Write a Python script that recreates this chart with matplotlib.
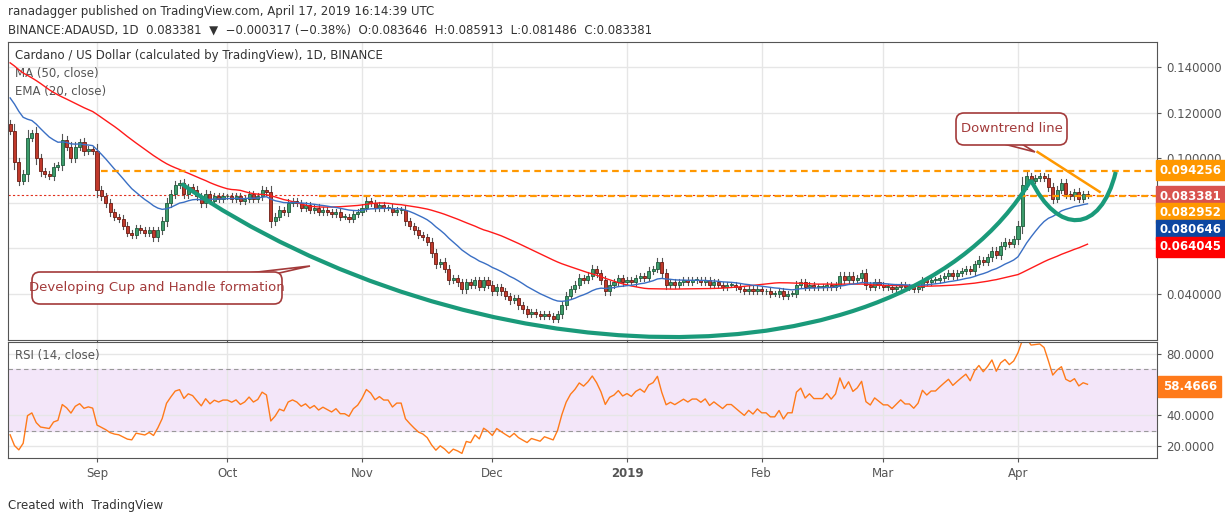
import numpy as np
import pandas as pd
import matplotlib
matplotlib.use("Agg")
from matplotlib import pyplot as plt
from matplotlib.patches import FancyBboxPatch, PathPatch, Polygon
from matplotlib.path import Path

# hidden history before the visible window (needed for MA50 / EMA20 / RSI)
history = [0.170, 0.168, 0.172, 0.165, 0.162, 0.166, 0.160, 0.158, 0.163, 0.160,
           0.155, 0.152, 0.156, 0.150, 0.148, 0.152, 0.155, 0.150, 0.147, 0.145,
           0.149, 0.151, 0.146, 0.143, 0.140, 0.144, 0.147, 0.142, 0.138, 0.140,
           0.137, 0.135, 0.138, 0.134, 0.131, 0.133, 0.136, 0.132, 0.130, 0.127,
           0.129, 0.125, 0.128, 0.124, 0.121, 0.123, 0.126, 0.122, 0.118, 0.115]

aug = [0.112, 0.098, 0.090, 0.093, 0.109, 0.111, 0.100, 0.094, 0.093, 0.092,
       0.096, 0.097, 0.108, 0.105, 0.100, 0.105, 0.107, 0.103, 0.104, 0.103]
sep = [0.086, 0.083, 0.080, 0.076, 0.074, 0.073, 0.070, 0.067, 0.066, 0.069,
       0.068, 0.067, 0.068, 0.065, 0.068, 0.072, 0.080, 0.084, 0.088, 0.089,
       0.084, 0.087, 0.086, 0.083, 0.080, 0.084, 0.081, 0.083, 0.082, 0.083]
oct_ = [0.083, 0.082, 0.083, 0.081, 0.082, 0.084, 0.082, 0.083, 0.086, 0.085,
        0.072, 0.074, 0.077, 0.076, 0.080, 0.081, 0.080, 0.078, 0.079, 0.077,
        0.078, 0.076, 0.077, 0.076, 0.075, 0.076, 0.074, 0.074, 0.073, 0.075, 0.076]
nov = [0.078, 0.081, 0.080, 0.078, 0.079, 0.078, 0.078, 0.076, 0.077, 0.077,
       0.072, 0.070, 0.068, 0.066, 0.065, 0.063, 0.058, 0.053, 0.054, 0.051,
       0.046, 0.047, 0.045, 0.042, 0.045, 0.044, 0.046, 0.043, 0.046, 0.044]
dec = [0.041, 0.043, 0.041, 0.039, 0.037, 0.038, 0.035, 0.033, 0.031, 0.032,
       0.031, 0.030, 0.031, 0.030, 0.029, 0.031, 0.035, 0.039, 0.042, 0.044,
       0.047, 0.046, 0.048, 0.051, 0.049, 0.046, 0.041, 0.044, 0.045, 0.047, 0.045]
jan = [0.046, 0.045, 0.047, 0.048, 0.047, 0.050, 0.051, 0.054, 0.049, 0.044,
       0.045, 0.044, 0.045, 0.046, 0.045, 0.046, 0.046, 0.045, 0.046, 0.044,
       0.045, 0.044, 0.043, 0.044, 0.044, 0.043, 0.042, 0.041, 0.042, 0.041, 0.042]
feb = [0.041, 0.041, 0.040, 0.040, 0.041, 0.039, 0.040, 0.040, 0.044, 0.045,
       0.043, 0.044, 0.043, 0.043, 0.043, 0.044, 0.043, 0.044, 0.048, 0.046,
       0.048, 0.046, 0.047, 0.049, 0.044, 0.043, 0.045, 0.044]
mar = [0.043, 0.043, 0.042, 0.043, 0.044, 0.043, 0.043, 0.042, 0.043, 0.046,
       0.045, 0.046, 0.046, 0.047, 0.048, 0.049, 0.048, 0.049, 0.050, 0.051,
       0.050, 0.053, 0.055, 0.054, 0.056, 0.059, 0.057, 0.061, 0.063, 0.062, 0.064]
apr = [0.070, 0.088, 0.092, 0.090, 0.091, 0.092, 0.091, 0.087, 0.082, 0.086,
       0.089, 0.084, 0.083, 0.085, 0.082, 0.084, 0.083381]

closes = aug + sep + oct_ + nov + dec + jan + feb + mar + apr
dates = pd.date_range("2018-08-12", periods=len(closes), freq="D")

month_labels = ["Sep", "Oct", "Nov", "Dec", "2019", "Feb", "Mar", "Apr"]
month_starts = ["2018-09-01", "2018-10-01", "2018-11-01", "2018-12-01",
                "2019-01-01", "2019-02-01", "2019-03-01", "2019-04-01"]

level_res = 0.094256
level_sup = 0.082952
last_price = 0.083381
tag_values = [0.094256, 0.083381, 0.082952, 0.080646, 0.064045]
tag_colors = ["#ff9800", "#d9534f", "#ff9800", "#0d47a1", "#ff0000"]
rsi_last = 58.4666

# indicators
allc = pd.Series(history + closes)
ma50 = allc.rolling(50).mean().values[len(history):]
ema20 = allc.ewm(span=20, adjust=False).mean().values[len(history):]
d = allc.diff()
up = d.clip(lower=0).ewm(alpha=1 / 14, adjust=False).mean()
dn = (-d.clip(upper=0)).ewm(alpha=1 / 14, adjust=False).mean()
rsi = (100 - 100 / (1 + up / dn)).values[len(history):]

n = len(closes)
x = np.arange(n)
opens = [history[-1]] + closes[:-1]

fig = plt.figure(figsize=(12.25, 5.22), dpi=100)
ax = fig.add_axes([0.0065, 0.349, 0.938, 0.5705])
ax2 = fig.add_axes([0.0065, 0.1226, 0.938, 0.2224], sharex=ax)

GRID = "#e6e6e6"
for a in (ax, ax2):
    a.grid(True, color=GRID, lw=1)
    a.set_axisbelow(True)
    a.yaxis.tick_right()
    for s in a.spines.values():
        s.set_color("#555555")
    a.tick_params(colors="#555555", labelsize=8.5, length=3)

# candles
for i in range(n):
    o, c = opens[i], closes[i]
    hi = max(o, c) + 0.12 * abs(c - o) + 0.0012
    lo = min(o, c) - 0.12 * abs(c - o) - 0.0012
    col = "#3c9b6b" if c >= o else "#c0392b"
    edge = "#1e5a3a" if c >= o else "#6b1a12"
    ax.plot([i, i], [lo, hi], color="#555555", lw=0.8, zorder=2)
    h = max(abs(c - o), 0.0003)
    ax.add_patch(plt.Rectangle((i - 0.35, min(o, c)), 0.7, h, facecolor=col,
                               edgecolor=edge, lw=0.6, zorder=3))

ax.plot(x, ma50, color="#ff1a1a", lw=1.0, zorder=4)
ax.plot(x, ema20, color="#3a6fc4", lw=1.0, zorder=4)

xmax = 264
ax.axhline(last_price, color="#e0301e", lw=0.8, ls=(0, (2, 2)), zorder=1)
ax.plot([21, xmax], [level_res, level_res], color="#ff9800", lw=1.6, ls=(0, (3, 2)), zorder=4)
ax.plot([71, xmax], [level_sup, level_sup], color="#ff9800", lw=1.6, ls=(0, (3, 2)), zorder=4)

# downtrend line
ax.plot([236.5, 250.8], [0.1026, 0.085], color="#ff9800", lw=1.8, zorder=5)

# cup and handle
cup = Path([(39.5, 0.0885), (105, 0.002), (205, -0.006), (235, 0.0903)],
           [Path.MOVETO, Path.CURVE4, Path.CURVE4, Path.CURVE4])
ax.add_patch(PathPatch(cup, fill=False, edgecolor="#1a9a7a", lw=3, zorder=6))
handle = Path([(235, 0.0903), (241, 0.066), (251, 0.066), (254.5, 0.0938)],
              [Path.MOVETO, Path.CURVE4, Path.CURVE4, Path.CURVE4])
ax.add_patch(PathPatch(handle, fill=False, edgecolor="#1a9a7a", lw=3, zorder=6))

ax.set_xlim(-0.5, xmax)
ax.set_ylim(0.0196, 0.1512)
yt = [0.04, 0.06, 0.08, 0.10, 0.12, 0.14]
ax.set_yticks(yt)
ax.set_yticklabels(["0.040000", "", "", "0.100000", "0.120000", "0.140000"])
plt.setp(ax.get_xticklabels(), visible=False)

# price tags, stacked so they do not overlap (pixel rows from the top)
tag_rows = [170, 196, 213, 230, 247]
for val, col, row in zip(tag_values, tag_colors, tag_rows):
    fig.text(1160 / 1225, 1 - row / 522, f"{val:.6f}", va="center", ha="left",
             fontsize=8.5, fontweight="bold", color="white",
             bbox=dict(boxstyle="square,pad=0.3", fc=col, ec=col))

# callouts
def callout(x0, y0, w, h, tip, base, text):
    box = FancyBboxPatch((x0, y0), w, h, boxstyle="round,pad=0,rounding_size=8",
                         transform=None, fc="white", ec="#a33a3a", lw=1.2, zorder=8)
    fig.patches.append(box)
    tri = Polygon([base[0], base[1], tip], closed=True, transform=None,
                  fc="white", ec="#a33a3a", lw=1.2, zorder=7)
    fig.patches.append(tri)
    fig.text((x0 + w / 2) / 1225, (y0 + h / 2) / 522, text, ha="center", va="center",
             color="#a33a3a", fontsize=9.5, zorder=9)

callout(32, 522 - 304, 250, 32, (310, 522 - 266), ((240, 522 - 274), (275, 522 - 274)),
        "Developing Cup and Handle formation")
callout(956, 522 - 145, 111, 32, (1035, 522 - 152), ((1000, 522 - 143), (1020, 522 - 143)),
        "Downtrend line")

ax.text(0.006, 0.955, "Cardano / US Dollar (calculated by TradingView), 1D, BINANCE",
        transform=ax.transAxes, fontsize=8.5, color="#333333", va="center")
ax.text(0.006, 0.895, "MA (50, close)", transform=ax.transAxes, fontsize=8.5, color="#555555", va="center")
ax.text(0.006, 0.835, "EMA (20, close)", transform=ax.transAxes, fontsize=8.5, color="#555555", va="center")

# RSI panel
ax2.axhspan(30, 70, color="#f3e6f9", zorder=0)
ax2.axhline(70, color="#999999", lw=0.8, ls=(0, (4, 3)))
ax2.axhline(30, color="#999999", lw=0.8, ls=(0, (4, 3)))
ax2.plot(x, rsi, color="#ff7a1a", lw=1.0)
ax2.set_ylim(12.5, 87.5)
ax2.set_yticks([20, 40, 80])
ax2.set_yticklabels(["20.0000", "40.0000", "80.0000"])
ax2.annotate(f"{rsi_last:.4f}", xy=(1.0, rsi_last), xycoords=("axes fraction", "data"),
             xytext=(4, 0), textcoords="offset points", va="center", ha="left",
             fontsize=8.5, fontweight="bold", color="white",
             bbox=dict(boxstyle="square,pad=0.35", fc="#ff7a1a", ec="#ff7a1a"),
             annotation_clip=False)
ax2.text(0.006, 0.88, "RSI (14, close)", transform=ax2.transAxes, fontsize=8.5,
         color="#555555", va="center")

tick_pos = [int((pd.Timestamp(m) - dates[0]).days) for m in month_starts]
ax2.set_xticks(tick_pos)
ax2.set_xticklabels(month_labels)
for lab in ax2.get_xticklabels():
    if lab.get_text() == "2019":
        lab.set_fontweight("bold")

fig.text(8 / 1225, 1 - 12 / 522, "ranadagger published on TradingView.com, April 17, 2019 16:14:39 UTC",
         fontsize=8.5, color="#333333", va="center")
fig.text(8 / 1225, 1 - 30 / 522,
         "BINANCE:ADAUSD, 1D  0.083381  \u25bc  \u22120.000317 (\u22120.38%)  O:0.083646  H:0.085913  L:0.081486  C:0.083381",
         fontsize=8.5, color="#333333", va="center")
fig.text(8 / 1225, 1 - 505 / 522, "Created with  TradingView", fontsize=8.5,
         color="#333333", va="center")

fig.savefig("out.png", dpi=100)
